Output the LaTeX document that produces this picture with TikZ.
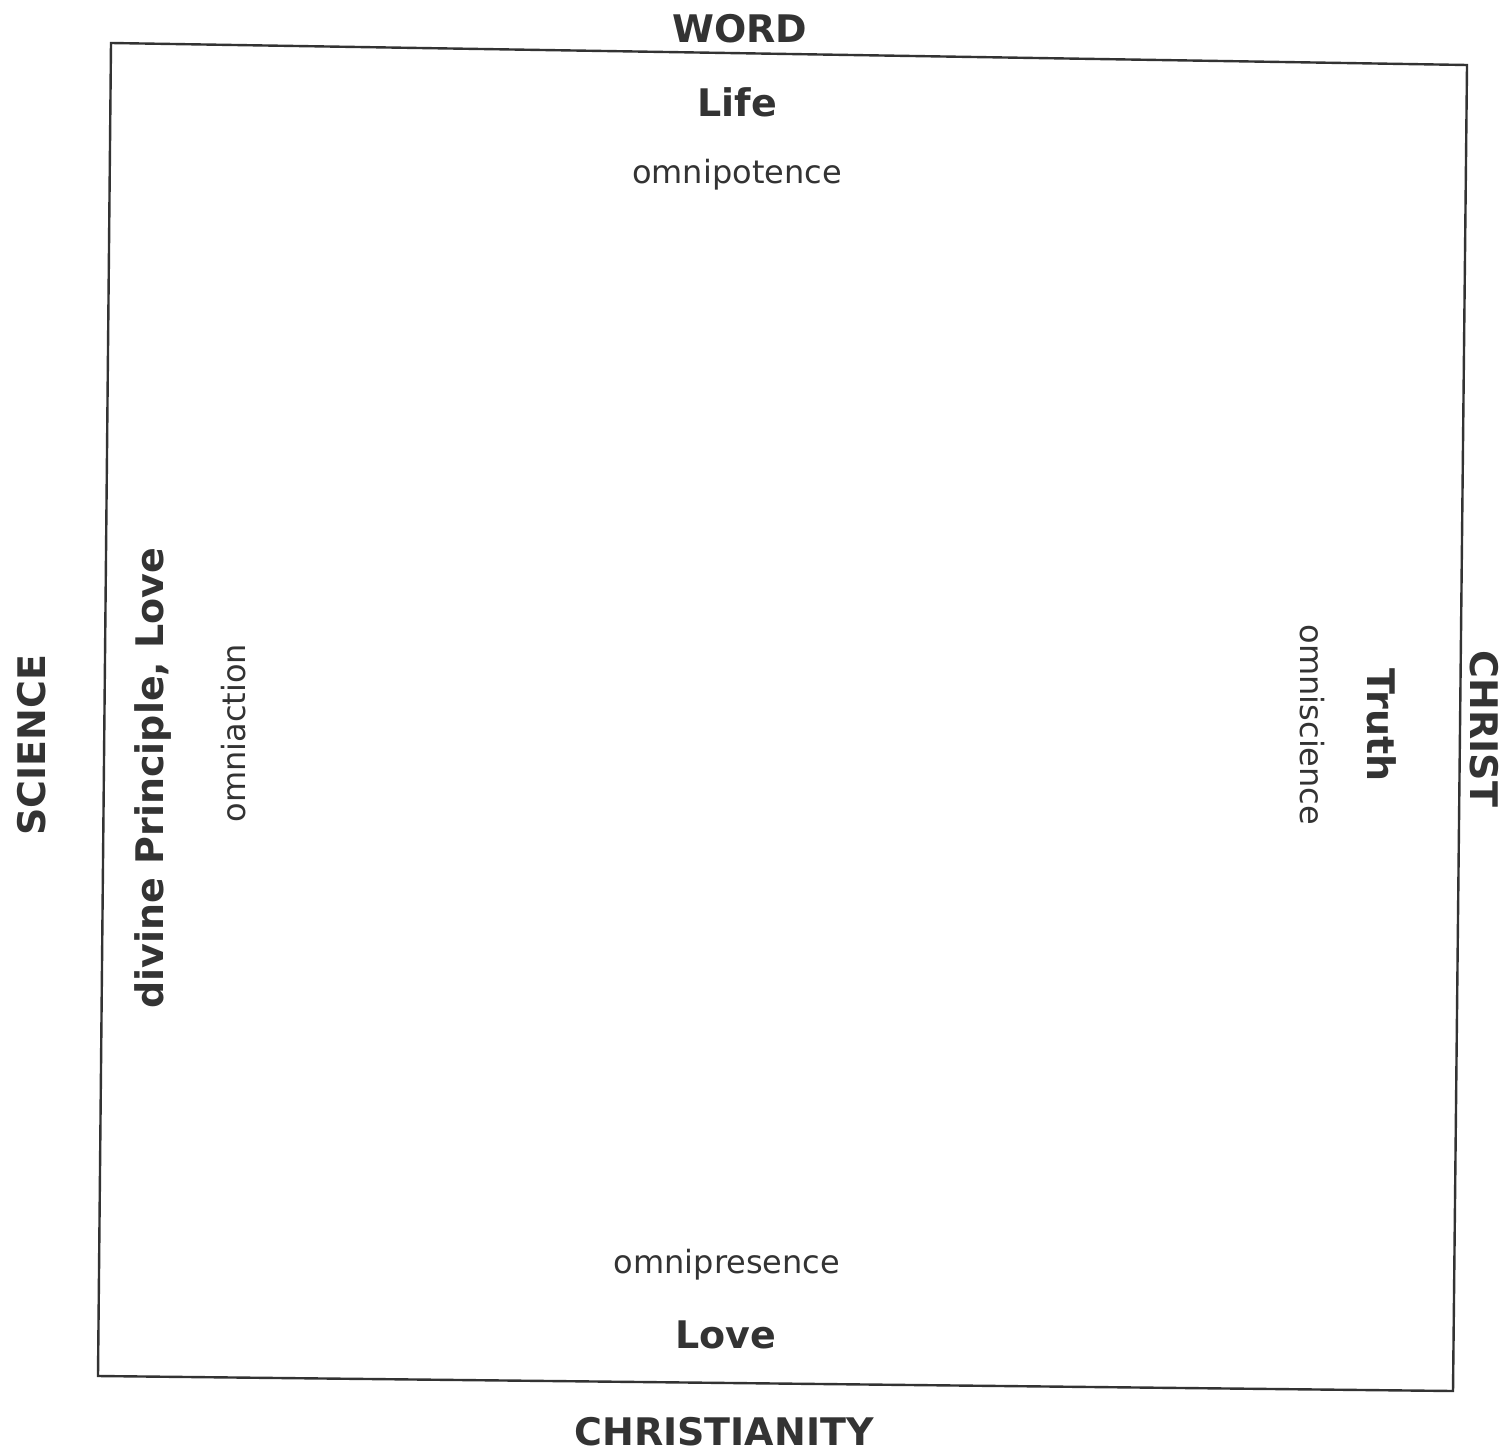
\documentclass[tikz,border=0pt]{standalone}
\usepackage{fontspec}
\setmainfont{DejaVu Sans}
\definecolor{ink}{HTML}{333333}
\begin{document}
\begin{tikzpicture}[x=0.5pt,y=-0.5pt,
  big/.style={font=\fontsize{19}{22}\selectfont\bfseries,text=ink,anchor=base,inner sep=0pt},
  small/.style={font=\fontsize{16}{19}\selectfont,text=ink,anchor=base,inner sep=0pt},
  frame/.style={draw=ink,line width=1.2pt,line join=miter}]
\useasboundingbox (0,0) rectangle (1509,1455);
\coordinate (tl) at (111,43);
\coordinate (tr) at (1467,65);
\coordinate (br) at (1453,1391);
\coordinate (bl) at (98,1376);
\draw[frame] (tl) -- (tr) -- (br) -- (bl) -- cycle;
\node[big] (word) at (740,43) {WORD};
\node[big] (life) at (737,117) {Life};
\node[small] (omnipot) at (737,184) {omnipotence};
\node[small] (omnipres) at (727,1273) {omnipresence};
\node[big] (love) at (726,1348) {Love};
\node[big] (christianity) at (724,1445) {CHRISTIANITY};
\node[big,rotate=90] (science) at (45,745) {SCIENCE};
\node[big,rotate=90] (principle) at (163,778) {divine Principle, Love};
\node[small,rotate=90] (omniaction) at (245,733) {omniaction};
\node[big,rotate=-90] (christ) at (1470,729) {CHRIST};
\node[big,rotate=-90] (truth) at (1367,725) {Truth};
\node[small,rotate=-90] (omniscience) at (1300,725) {omniscience};
\end{tikzpicture}
\end{document}
